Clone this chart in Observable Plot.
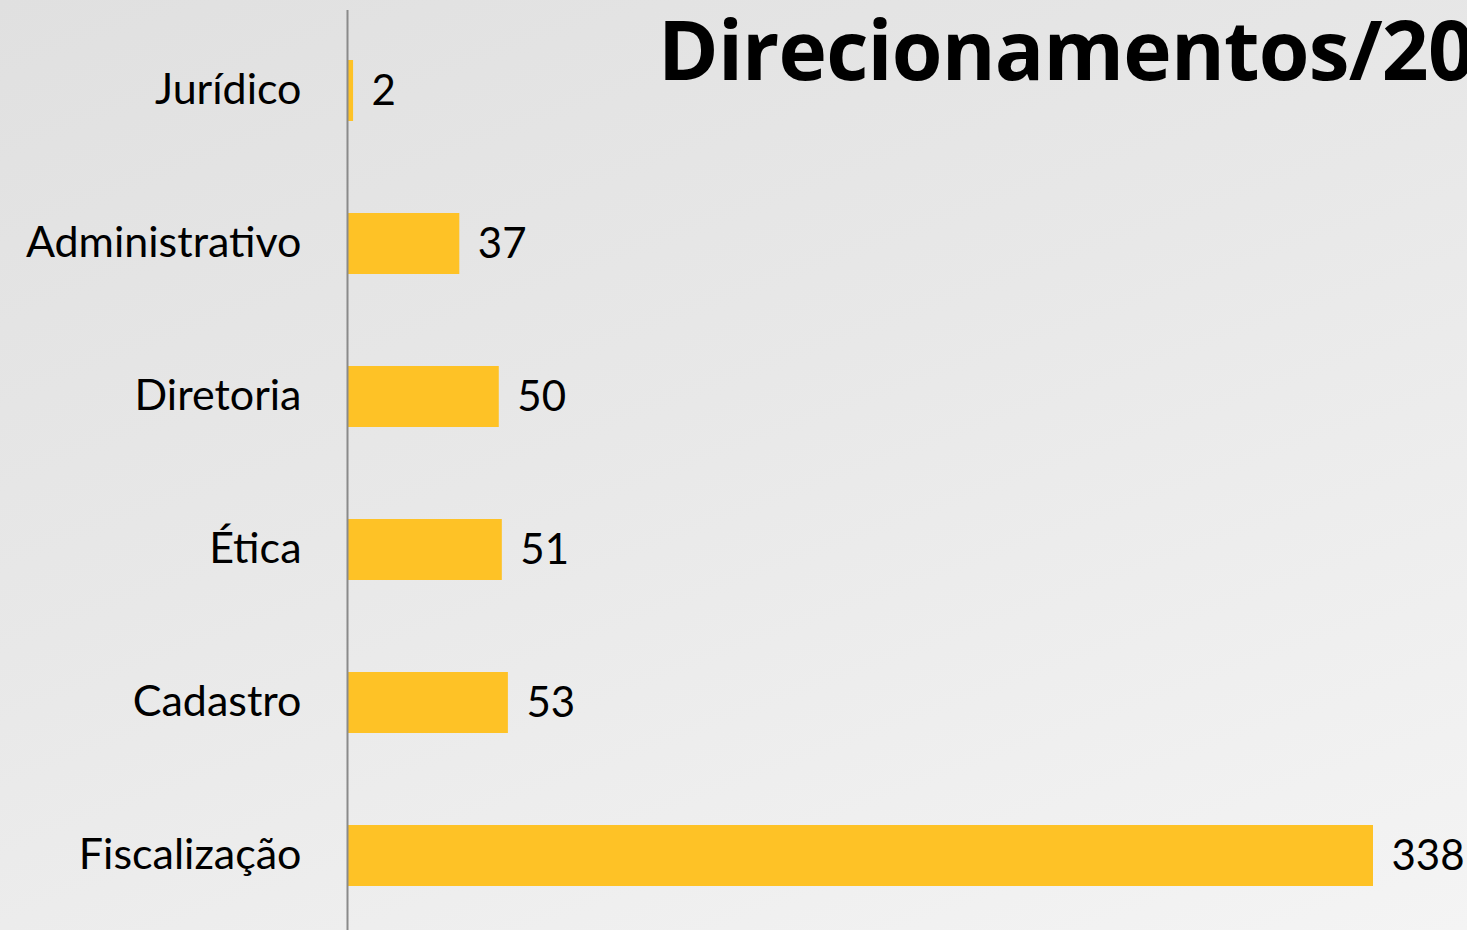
<!DOCTYPE html>
<html>
<head>
<meta charset="utf-8">
<script src="https://cdn.jsdelivr.net/npm/d3@7"></script>
<script src="https://cdn.jsdelivr.net/npm/@observablehq/plot@0.6"></script>
<style>
  html, body { margin: 0; padding: 0; width: 1467px; height: 930px; overflow: hidden; }
  body {
    background: linear-gradient(160deg, #e0e0e0 0%, #e8e8e8 45%, #f4f4f4 100%);
    font-family: Lato, "Open Sans", sans-serif;
    position: relative;
  }
  #title {
    position: absolute; left: 658px; top: -8px;
    font-family: "Open Sans", Lato, sans-serif; font-weight: 700;
    font-size: 82px; color: #000; white-space: nowrap; letter-spacing: -0.8px;
  }
  #chart { position: absolute; left: 0; top: 0; }
</style>
</head>
<body>
<div id="chart"></div>
<div id="title">Direcionamentos/20</div>
<script>
const categories = ["Jurídico", "Administrativo", "Diretoria", "Ética", "Cadastro", "Fiscalização"];
const values = [2, 37, 50, 51, 53, 338];

const data = categories.map((c, i) => ({category: c, value: values[i]}));

const chart = Plot.plot({
  width: 1467,
  height: 930,
  marginLeft: 347,
  marginRight: 94,
  marginTop: 10,
  marginBottom: 0,
  style: {background: "transparent", fontFamily: "Lato, 'Open Sans', sans-serif", overflow: "visible"},
  x: {domain: [0, 338], axis: null},
  y: {domain: categories, range: [11, 934], padding: 0, axis: null, label: null},
  marks: [
    Plot.barX(data, {x: "value", y: "category", fill: "#fec226", insetTop: 46, insetBottom: 46}),
    Plot.axisY({tickSize: 0, tickPadding: 46, fontSize: 43, fill: "#000", textAnchor: "end", label: null, dy: -1}),
    Plot.ruleX([0], {stroke: "#8a8a8a", strokeWidth: 2}),
    Plot.text(data, {x: "value", y: "category", text: d => String(d.value), textAnchor: "start", dx: 18, dy: 1, fontSize: 42, fill: "#000"})
  ]
});
document.getElementById("chart").appendChild(chart);
</script>
</body>
</html>
